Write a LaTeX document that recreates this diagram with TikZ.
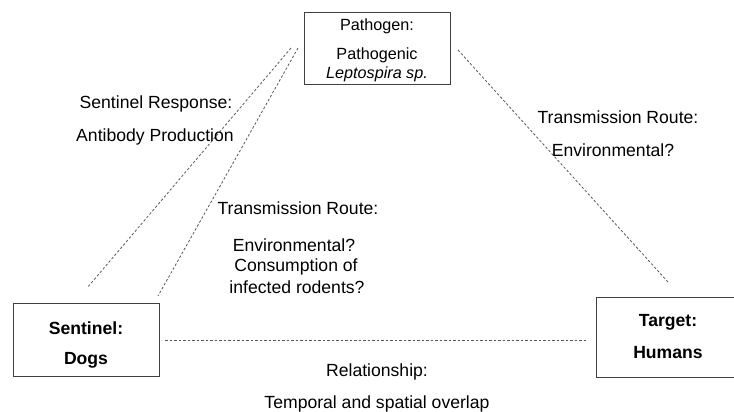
\documentclass[tikz,border=0pt]{standalone}
\usepackage{fontspec}
\setmainfont{Liberation Sans}
\begin{document}
\begin{tikzpicture}[x=1pt,y=-1pt,
  boxed/.style={draw=black!75,line width=0.9pt,rectangle,inner sep=0pt},
  lbl/.style={anchor=base,inner sep=0pt,font=\fontsize{17.6}{20}\selectfont},
  blbl/.style={anchor=base,inner sep=0pt,font=\fontsize{17.6}{20}\selectfont\bfseries},
  plbl/.style={anchor=base,inner sep=0pt,font=\fontsize{16.2}{19}\selectfont},
  link/.style={draw=black!65,line width=0.8pt,dash pattern=on 2.5pt off 2pt}]
\useasboundingbox (0,0) rectangle (734,412);
\clip (0,0) rectangle (734,412);
\fill[white] (0,0) rectangle (734,412);
% boxes
\node[boxed,minimum width=146pt,minimum height=72pt] (path) at (377,48) {};
\node[boxed,minimum width=146pt,minimum height=73pt] (sent) at (86,339.5) {};
\node[boxed,minimum width=144pt,minimum height=80pt] (targ) at (668,337) {};
% box texts
\node[plbl] (p1) at (377,31) {Pathogen:};
\node[plbl] (p2) at (377,60) {Pathogenic};
\node[plbl] (p3) at (377,78) {\itshape Leptospira sp.};
\node[blbl] (s1) at (86,334) {Sentinel:};
\node[blbl] (s2) at (86,364) {Dogs};
\node[blbl] (t1) at (668,326) {Target:};
\node[blbl] (t2) at (668,358) {Humans};
% connector end points
\coordinate (a1) at (291,48);
\coordinate (a2) at (87,288);
\coordinate (b1) at (298,48);
\coordinate (b2) at (158,296);
\coordinate (c1) at (458,50);
\coordinate (c2) at (668,282);
\coordinate (d1) at (165,340.5);
\coordinate (d2) at (588,340.5);
\draw[link] (a1) -- (a2);
\draw[link] (b1) -- (b2);
\draw[link] (c1) -- (c2);
\draw[link] (d1) -- (d2);
% labels
\node[lbl] (l1) at (156,109) {Sentinel Response:};
\node[lbl] (l2) at (155,141) {Antibody Production};
\node[lbl] (m1) at (298,214) {Transmission Route:};
\node[lbl] (m2) at (294,251) {Environmental?};
\node[lbl] (m3) at (296,271) {Consumption of};
\node[lbl] (m4) at (297,293) {infected rodents?};
\node[lbl] (r1) at (618,123) {Transmission Route:};
\node[lbl] (r2) at (613,156) {Environmental?};
\node[lbl] (h1) at (377,376) {Relationship:};
\node[lbl] (h2) at (377,408) {Temporal and spatial overlap};
\end{tikzpicture}
\end{document}
